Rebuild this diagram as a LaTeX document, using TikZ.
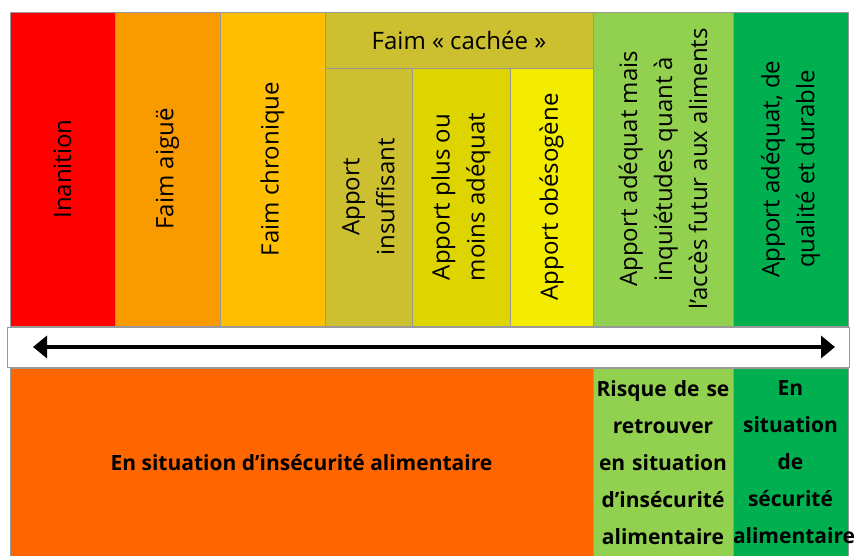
\documentclass[tikz,border=0pt]{standalone}
\usepackage{fontspec}
\setmainfont{Open Sans}
\usetikzlibrary{arrows.meta}
\definecolor{cRed}{HTML}{FF0000}
\definecolor{cOrange}{HTML}{F99A00}
\definecolor{cAmber}{HTML}{FFBF00}
\definecolor{cOlive}{HTML}{CCC030}
\definecolor{cOliveB}{HTML}{DDD400}
\definecolor{cYellow}{HTML}{F3EC00}
\definecolor{cLightGreen}{HTML}{92D050}
\definecolor{cGreen}{HTML}{00B050}
\definecolor{cDeepOrange}{HTML}{FF6600}
\begin{document}
\begin{tikzpicture}[x=1pt, y=-1pt,
  every node/.style={inner sep=0pt, font=\fontsize{24}{35}\selectfont},
  band/.style={draw=black!40, line width=.7pt, align=center},
  col/.style={band, rotate=90},
  bas/.style={band, minimum height=189pt, font=\fontsize{21}{37}\selectfont\bfseries}]
\useasboundingbox (0,0) rectangle (855,556);
% top columns
\node[col, fill=cRed, minimum width=314pt, minimum height=105pt] (inanition) at (62.5,169) {Inanition};
\node[col, fill=cOrange, minimum width=314pt, minimum height=105pt] (aigue) at (167.5,169) {Faim aiguë};
\node[col, fill=cAmber, minimum width=314pt, minimum height=105pt] (chronique) at (272.5,169) {Faim chronique};
\node[band, fill=cOlive, minimum width=268pt, minimum height=56pt] (cachee) at (459,40) {Faim « cachée »};
\node[col, fill=cOlive, minimum width=258pt, minimum height=87pt] (insuff) at (368.5,197) {Apport\\insuffisant};
\node[col, fill=cOliveB, minimum width=258pt, minimum height=98pt] (plusmoins) at (461,197) {Apport plus ou\\moins adéquat};
\node[col, fill=cYellow, minimum width=258pt, minimum height=83pt] (obeso) at (551.5,197) {Apport obésogène};
\node[col, fill=cLightGreen, minimum width=314pt, minimum height=140pt] (inquiet) at (663,169) {Apport adéquat mais\\inquiétudes quant à\\l’accès futur aux aliments};
\node[col, fill=cGreen, minimum width=314pt, minimum height=115pt] (durable) at (790.5,169) {Apport adéquat, de\\qualité et durable};
% middle band with arrow
\node[band, fill=white, minimum width=842pt, minimum height=40pt] (axe) at (428.5,347) {};
\coordinate (gauche) at (33,347);
\coordinate (droite) at (835,347);
\draw[{Triangle[length=14pt,width=22pt]}-{Triangle[length=14pt,width=22pt]}, line width=3.5pt] (gauche) -- (droite);
% bottom
\node[bas, fill=cDeepOrange, minimum width=583pt] (insecu) at (301.5,462.5) {En situation d’insécurité alimentaire};
\node[bas, fill=cLightGreen, minimum width=140pt, text width=140pt] (risque) at (663,462.5) {Risque de se\\retrouver\\en situation\\d’insécurité\\alimentaire};
\node[bas, fill=cGreen, minimum width=115pt, text width=115pt] (secu) at (790.5,462.5) {En\\situation\\de\\sécurité\\alimentaire};
\end{tikzpicture}
\end{document}
